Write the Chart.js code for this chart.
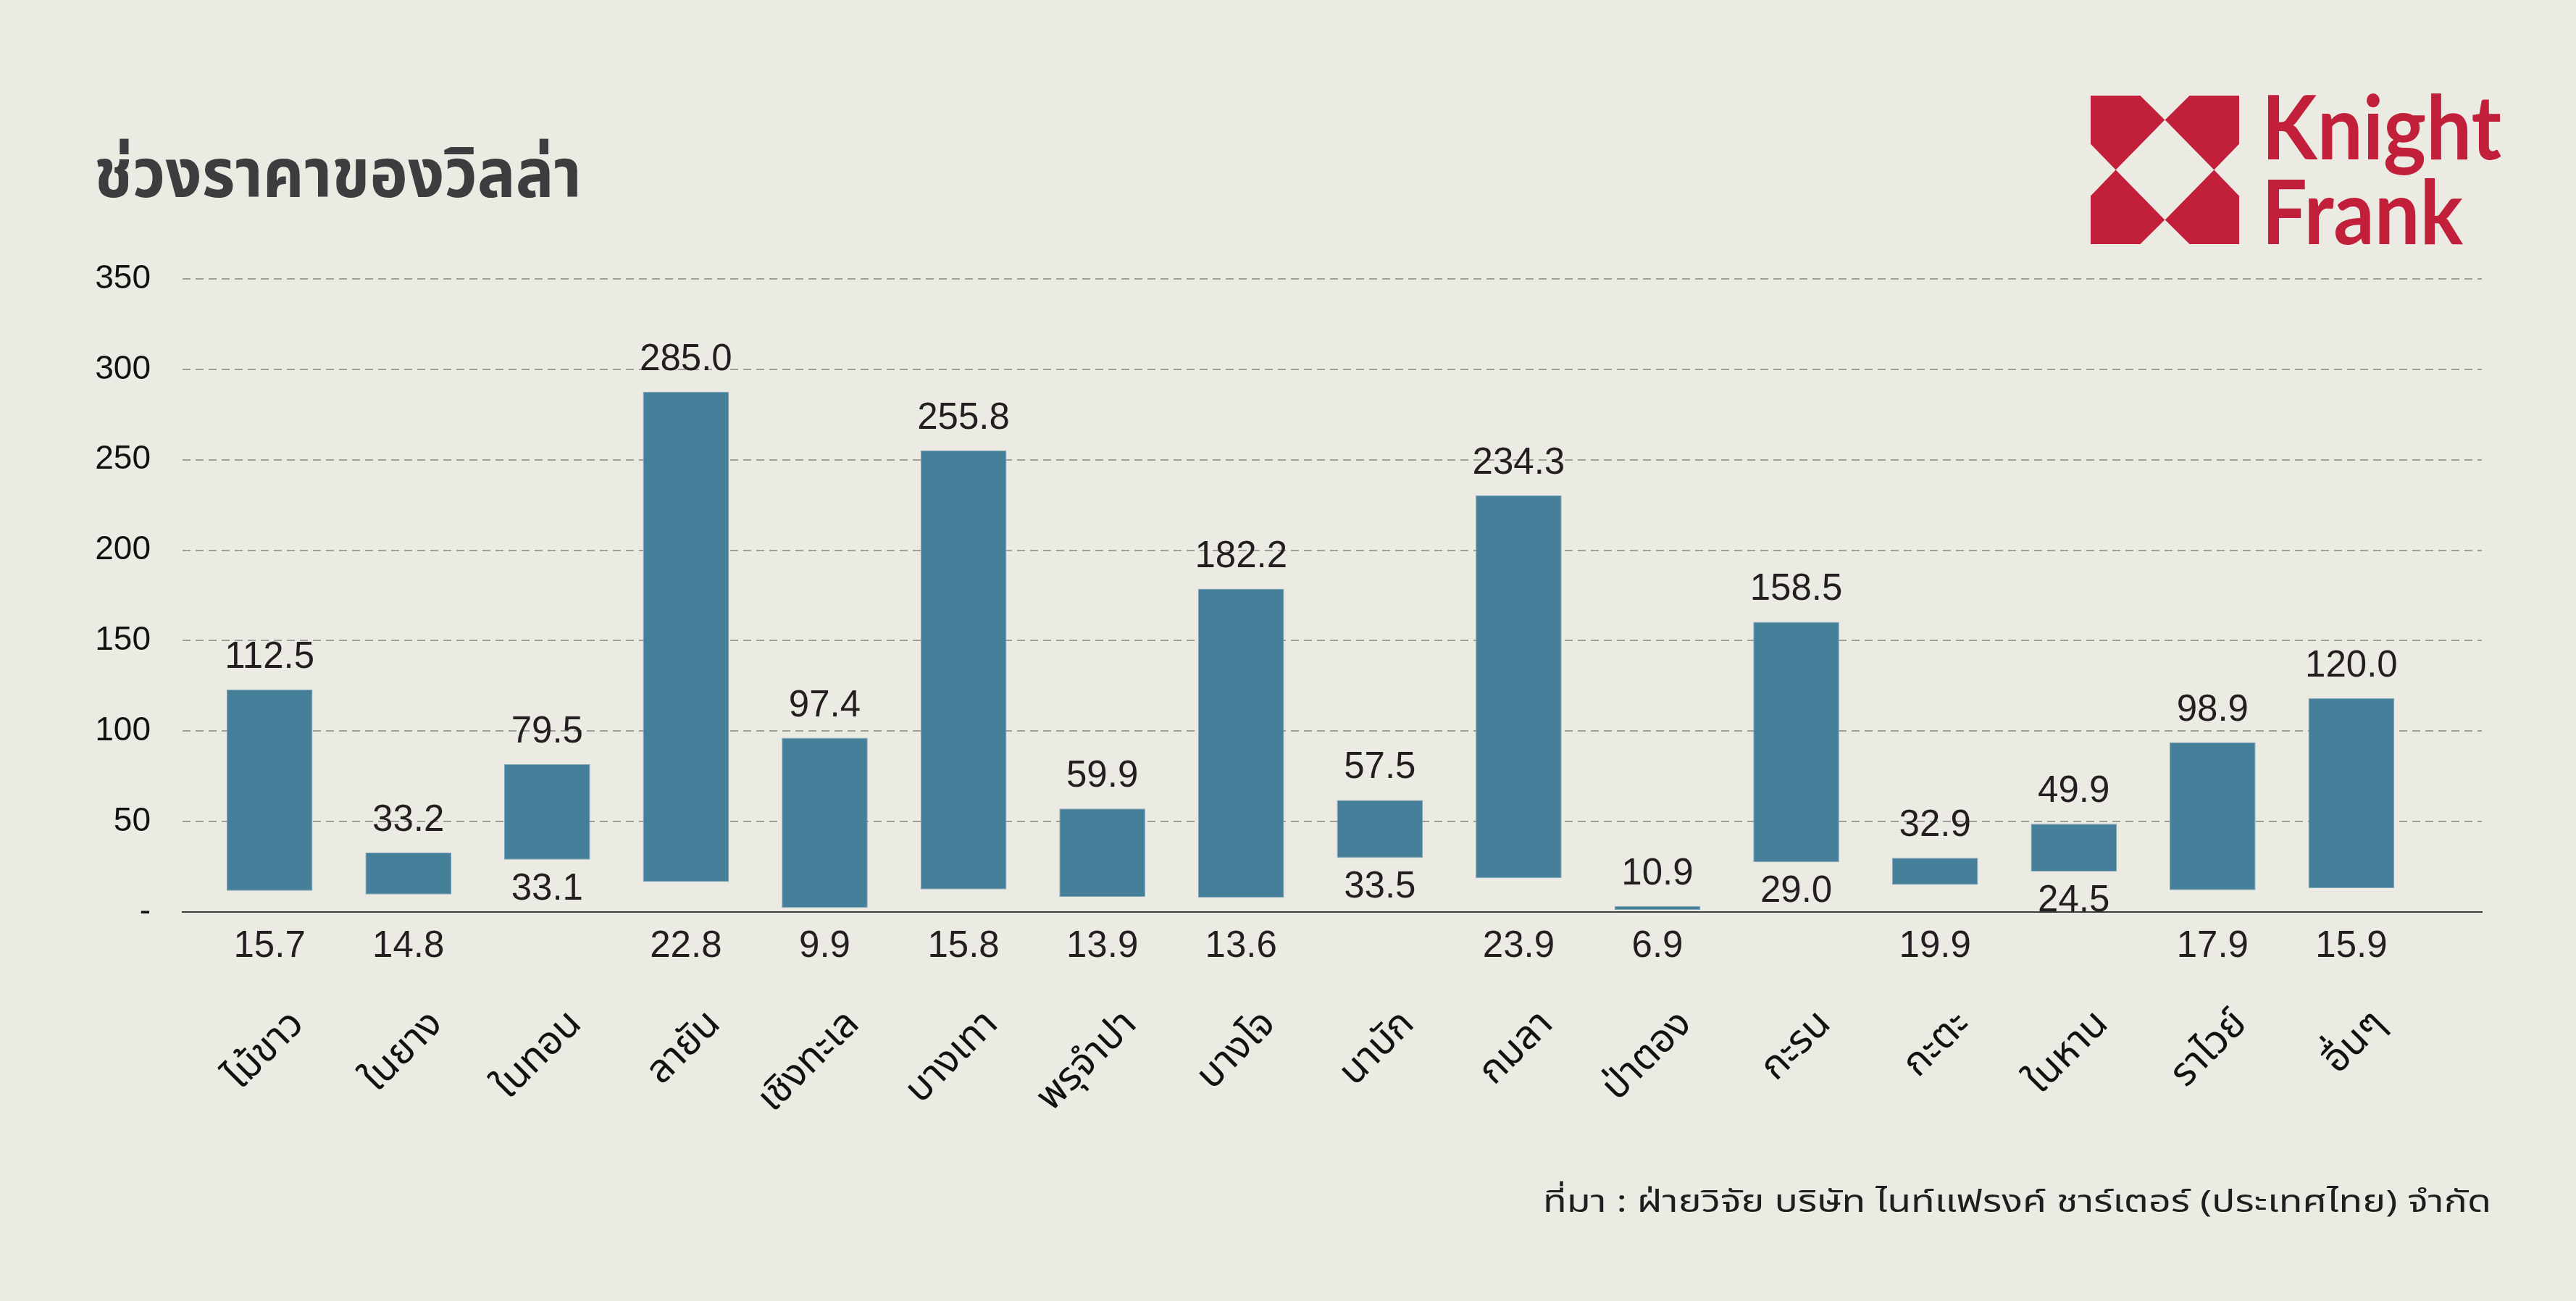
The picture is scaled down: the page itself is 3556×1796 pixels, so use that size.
<!DOCTYPE html>
<html>
<head>
<meta charset="utf-8">
<title>ช่วงราคาของวิลล่า</title>
<script src="https://cdn.jsdelivr.net/npm/chart.js@4.4.1/dist/chart.umd.min.js"></script>
<style>
  html, body { margin: 0; padding: 0; background: #ebebe3; }
  #wrap { position: relative; width: 3556px; height: 1796px; }
</style>
</head>
<body>
<div id="wrap"><canvas id="villaChart" width="3556" height="1796"></canvas></div>
<script>
// areas on the x axis
const areas = ['ไม้ขาว', 'ในยาง', 'ในทอน', 'ลายัน', 'เชิงทะเล', 'บางเทา', 'พรุจำปา', 'บางโจ',
  'นาบัก', 'กมลา', 'ป่าตอง', 'กะรน', 'กะตะ', 'ในหาน', 'ราไวย์', 'อื่นๆ'];

// bar ends as drawn in the picture
const barLow  = [11.7, 9.7, 28.9, 16.6, 2.3, 12.5, 8.4, 8.0, 29.9, 18.7, 1.1, 27.5, 15.0, 22.4, 12.1, 13.2];
const barHigh = [122.9, 32.8, 81.7, 287.5, 96.3, 255.2, 57.2, 178.6, 61.9, 230.4, 3.3, 160.4, 29.9, 48.8, 93.8, 118.2];

// printed min / max figures
const lowLabels  = [15.7, 14.8, 33.1, 22.8, 9.9, 15.8, 13.9, 13.6, 33.5, 23.9, 6.9, 29.0, 19.9, 24.5, 17.9, 15.9];
const highLabels = [112.5, 33.2, 79.5, 285.0, 97.4, 255.8, 59.9, 182.2, 57.5, 234.3, 10.9, 158.5, 32.9, 49.9, 98.9, 120.0];

const yTicks = [0, 50, 100, 150, 200, 250, 300, 350];

const titleText = 'ช่วงราคาของวิลล่า';
const sourceText = 'ที่มา : ฝ่ายวิจัย บริษัท ไนท์แฟรงค์ ชาร์เตอร์ (ประเทศไทย) จำกัด';

const thaiFont = '"Noto Sans Thai", "Noto Sans Thai UI", "Noto Sans", Tahoma, sans-serif';
const numFont = '"Liberation Sans", Arial, sans-serif';
const red = '#c21f3b';

// draws text so that it spans exactly `width` px
function fitText(ctx, text, x, y, width, align) {
  const w = ctx.measureText(text).width;
  ctx.save();
  ctx.translate(align === 'right' ? x - width : x, y);
  ctx.scale(width / w, 1);
  ctx.textAlign = 'left';
  ctx.fillText(text, 0, 0);
  ctx.restore();
}

const decorations = {
  id: 'decorations',
  afterDatasetsDraw(chart) {
    const { ctx, scales: { x, y } } = chart;
    ctx.save();

    // min / max figures
    ctx.fillStyle = '#231f20';
    ctx.font = '51px ' + numFont;
    ctx.textAlign = 'center';
    ctx.textBaseline = 'alphabetic';
    areas.forEach((_, i) => {
      const cx = x.getPixelForValue(i);
      ctx.fillText(highLabels[i].toFixed(1), cx, y.getPixelForValue(barHigh[i]) - 30);
      const ly = lowLabels[i] >= 24
        ? y.getPixelForValue(barLow[i]) + 55
        : y.getPixelForValue(0) + 62;
      ctx.fillText(lowLabels[i].toFixed(1), cx, ly);
    });

    // title
    ctx.fillStyle = '#3d3d3f';
    ctx.font = 'bold 94px ' + thaiFont;
    fitText(ctx, titleText, 130, 272, 673, 'left');

    // source note
    ctx.fillStyle = '#1e1e1e';
    ctx.font = '42px ' + thaiFont;
    fitText(ctx, sourceText, 3439, 1673, 1309, 'right');

    // logo mark
    const lx = 2886, ly0 = 132, s = 205;
    const piece = [[0, 0], [0.334, 0], [0.499, 0.163], [0.169, 0.5], [0, 0.325]];
    ctx.fillStyle = red;
    [[1, 1], [-1, 1], [1, -1], [-1, -1]].forEach(([sx, sy]) => {
      ctx.beginPath();
      piece.forEach(([px, py], k) => {
        const ax = lx + (sx === 1 ? px : 1 - px) * s;
        const ay = ly0 + (sy === 1 ? py : 1 - py) * s;
        if (k === 0) ctx.moveTo(ax, ay); else ctx.lineTo(ax, ay);
      });
      ctx.closePath();
      ctx.fill();
    });

    // logo words
    ctx.font = 'bold 122px Lato, "Open Sans", sans-serif';
    fitText(ctx, 'Knight', 3122, 220, 331, 'left');
    fitText(ctx, 'Frank', 3122, 337, 278, 'left');

    ctx.restore();
  }
};

const points = areas.map((_, i) => ({ x: i, y: [barLow[i], barHigh[i]] }));

new Chart(document.getElementById('villaChart').getContext('2d'), {
  type: 'bar',
  data: {
    datasets: [{
      data: points,
      backgroundColor: '#467f99',
      borderColor: '#7fa5b8',
      borderWidth: 1,
      borderSkipped: false,
      barPercentage: 1,
      categoryPercentage: 0.619
    }]
  },
  options: {
    responsive: false,
    animation: false,
    layout: { padding: { left: 0, right: 130, top: 385, bottom: 0 } },
    plugins: { legend: { display: false }, tooltip: { enabled: false } },
    scales: {
      x: {
        type: 'linear',
        offset: false,
        min: -0.627,
        max: 15.94,
        afterFit: (s) => { s.height = 537; },
        grid: { display: false, offset: false },
        border: { display: true, color: '#3c3c3c', width: 2 },
        ticks: {
          stepSize: 1,
          includeBounds: false,
          autoSkip: false,
          minRotation: 45,
          maxRotation: 45,
          padding: 118,
          labelOffset: 42,
          color: '#111',
          font: { family: thaiFont, size: 54 },
          callback: (v) => areas[v] ?? ''
        }
      },
      y: {
        min: 0,
        max: 350,
        afterFit: (s) => { s.width = 252; },
        afterBuildTicks: (s) => { s.ticks = yTicks.map((v) => ({ value: v })); },
        border: { display: false, dash: [11, 7] },
        grid: {
          drawTicks: false,
          lineWidth: 2,
          color: (c) => (c.tick && c.tick.value === 0 ? 'rgba(0,0,0,0)' : '#a09f9a')
        },
        ticks: {
          padding: 44,
          color: '#111',
          font: { family: numFont, size: 46 },
          callback: (v) => (v === 0 ? '-' : v)
        }
      }
    }
  },
  plugins: [decorations]
});
</script>
</body>
</html>
